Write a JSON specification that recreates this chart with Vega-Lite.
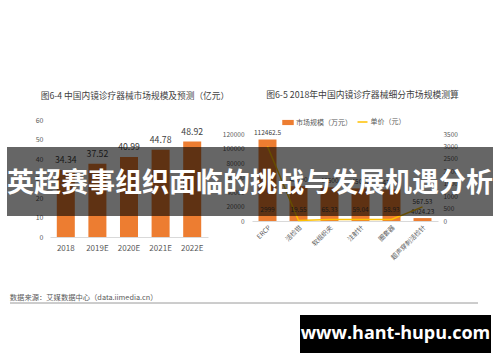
{
  "$schema": "https://vega.github.io/schema/vega-lite/v6.json",
  "width": 500,
  "height": 362,
  "autosize": {"type": "none"},
  "padding": 0,
  "background": "#ffffff",
  "config": {
    "view": {"stroke": null},
    "font": "Noto Sans CJK SC",
    "axis": {"zindex": 0, "grid": false, "ticks": false, "domain": false, "title": null, "labelColor": "#595959", "labelFont": "Noto Sans CJK SC"},
    "legend": {"labelFont": "Noto Sans CJK SC", "labelColor": "#595959", "labelFontSize": 7, "padding": 0, "title": null}
  },
  "layer": [
    {
      "data": {"values": [
        {"cat": "ERCP", "size": 112462.5, "price": 2999},
        {"cat": "活检钳", "size": 48000, "price": 19.55},
        {"cat": "软组织夹", "size": 46500, "price": 65.33},
        {"cat": "注射针", "size": 45000, "price": 59.04},
        {"cat": "圈套器", "size": 43500, "price": 58.93},
        {"cat": "超声穿刺活检针", "size": 4024.23, "price": 567.53}
      ]},
      "layer": [
        {
          "layer": [
            {
              "mark": {"type": "bar"},
              "encoding": {
                "x": {"field": "cat", "type": "nominal", "sort": null,
                  "scale": {"range": [252, 438], "paddingInner": 0.42, "paddingOuter": 0.21},
                  "axis": {"orient": "bottom", "offset": -141, "domain": true, "domainColor": "#d9d9d9", "labelAngle": -45, "labelFontSize": 6.5, "labelPadding": 3}},
                "y": {"field": "size", "type": "quantitative",
                  "scale": {"domain": [0, 120000], "range": [221, 134], "nice": false},
                  "axis": {"orient": "left", "offset": -252, "values": [0, 20000, 40000, 60000, 80000, 100000, 120000], "format": "d", "labelFontSize": 6.5, "labelPadding": 8}},
                "fill": {"datum": "市场规模（万元）", "scale": {"range": ["#ED7D31"]},
                  "legend": {"orient": "none", "legendX": 282, "legendY": 116.5, "direction": "horizontal", "symbolType": "M-1,-0.45H1V0.45H-1Z", "symbolSize": 132, "symbolStrokeWidth": 0, "labelOffset": 2}}
              }
            },
            {
              "mark": {"type": "text", "baseline": "middle", "dy": -6.5, "fontSize": 6.5, "color": "#404040"},
              "encoding": {
                "x": {"field": "cat", "type": "nominal", "sort": null},
                "y": {"field": "size", "type": "quantitative"},
                "text": {"field": "size", "type": "nominal"}
              }
            },
            {
              "data": {"values": [{"t": "图6-5 2018年中国内镜诊疗器械细分市场规模测算"}]},
              "mark": {"type": "text", "baseline": "middle", "fontSize": 8.8, "color": "#404040", "dx": 2},
              "encoding": {
                "x": {"datum": "注射针", "type": "nominal"},
                "y": {"datum": 173793, "type": "quantitative"},
                "text": {"field": "t"}
              }
            }
          ]
        },
        {
          "layer": [
            {
              "mark": {"type": "line", "strokeWidth": 1.5},
              "encoding": {
                "x": {"field": "cat", "type": "nominal", "sort": null},
                "y": {"field": "price", "type": "quantitative",
                  "scale": {"domain": [0, 3500], "range": [221, 134], "nice": false},
                  "axis": {"orient": "right", "offset": -62, "values": [0, 500, 1000, 1500, 2000, 2500, 3000, 3500], "format": "d", "labelFontSize": 6.5, "labelPadding": 5}},
                "stroke": {"datum": "单价（元）", "scale": {"range": ["#FFC000"]},
                  "legend": {"orient": "none", "legendX": 356.5, "legendY": 116, "direction": "horizontal", "symbolType": "stroke", "symbolSize": 100, "symbolStrokeWidth": 1.5, "labelOffset": 2}}
              }
            },
            {
              "transform": [{"filter": "datum.cat != '超声穿刺活检针'"}],
              "mark": {"type": "text", "baseline": "middle", "fontSize": 6.5, "color": "#404040"},
              "encoding": {
                "x": {"field": "cat", "type": "nominal", "sort": null},
                "y": {"datum": 442, "type": "quantitative"},
                "text": {"field": "price", "type": "nominal"}
              }
            },
            {
              "transform": [{"filter": "datum.cat == '超声穿刺活检针'"}],
              "mark": {"type": "text", "baseline": "middle", "dy": -5, "fontSize": 6.5, "color": "#404040"},
              "encoding": {
                "x": {"field": "cat", "type": "nominal", "sort": null},
                "y": {"field": "price", "type": "quantitative"},
                "text": {"field": "price", "type": "nominal"}
              }
            }
          ]
        }
      ],
      "resolve": {"scale": {"y": "independent"}}
    },
    {
      "data": {"values": [
        {"year": "2018", "value": 34.34},
        {"year": "2019E", "value": 37.52},
        {"year": "2020E", "value": 40.99},
        {"year": "2021E", "value": 44.78},
        {"year": "2022E", "value": 48.92}
      ]},
      "layer": [
        {
          "mark": {"type": "bar", "color": "#ED7D31"},
          "encoding": {
            "x": {"field": "year", "type": "nominal", "sort": null,
              "scale": {"range": [50, 208], "paddingInner": 0.43, "paddingOuter": 0.215},
              "axis": {"orient": "bottom", "offset": -125, "domain": true, "domainColor": "#d9d9d9", "labelAngle": 0, "labelFontSize": 8, "labelPadding": 7}},
            "y": {"field": "value", "type": "quantitative",
              "scale": {"domain": [0, 60], "range": [237, 120], "nice": false},
              "axis": {"orient": "left", "offset": -50, "values": [0, 10, 20, 30, 40, 50, 60], "labelFontSize": 7, "labelPadding": 7}}
          }
        },
        {
          "mark": {"type": "text", "baseline": "middle", "dy": -10, "fontSize": 8.7, "color": "#404040"},
          "encoding": {
            "x": {"field": "year", "type": "nominal", "sort": null},
            "y": {"field": "value", "type": "quantitative"},
            "text": {"field": "value", "type": "nominal"}
          }
        },
        {
          "data": {"values": [{"t": "图6-4 中国内镜诊疗器械市场规模及预测（亿元）"}]},
          "mark": {"type": "text", "baseline": "middle", "fontSize": 8.7, "color": "#404040", "dx": 6},
          "encoding": {
            "x": {"datum": "2020E", "type": "nominal"},
            "y": {"datum": 72.3, "type": "quantitative"},
            "text": {"field": "t"}
          }
        },
        {
          "data": {"values": [{"t": "数据来源：艾媒数据中心（data.iimedia.cn）"}]},
          "mark": {"type": "text", "baseline": "middle", "align": "left", "fontSize": 7.3, "color": "#595959", "dx": -56},
          "encoding": {
            "x": {"datum": "2018", "type": "nominal"},
            "y": {"datum": -31.3, "type": "quantitative"},
            "text": {"field": "t"}
          }
        },
        {
          "data": {"values": [{"t": "footer"}]},
          "mark": {"type": "rule", "color": "#808080", "strokeWidth": 0.8},
          "encoding": {
            "x": {"value": 10},
            "x2": {"value": 478},
            "y": {"datum": -33.85, "type": "quantitative"}
          }
        },
        {
          "data": {"values": [{"t": "banner"}]},
          "mark": {"type": "rect", "color": "#000000", "opacity": 0.6},
          "encoding": {
            "x": {"value": 7},
            "x2": {"value": 493},
            "y": {"datum": 46.15, "type": "quantitative"},
            "y2": {"datum": 10.77}
          }
        },
        {
          "data": {"values": [{"t": "英超赛事组织面临的挑战与发展机遇分析"}]},
          "mark": {"type": "text", "baseline": "middle", "fontSize": 27, "fontWeight": "bold", "color": "#ffffff"},
          "encoding": {
            "y": {"datum": 27.2, "type": "quantitative"},
            "text": {"field": "t"}
          }
        },
        {
          "data": {"values": [{"t": "watermark"}]},
          "mark": {"type": "rect", "color": "#000000"},
          "encoding": {
            "x": {"value": 300},
            "x2": {"value": 491},
            "y": {"datum": -40, "type": "quantitative"},
            "y2": {"datum": -59.5}
          }
        },
        {
          "data": {"values": [{"t": "www.hant-hupu.com"}]},
          "mark": {"type": "text", "baseline": "middle", "font": "Open Sans", "fontSize": 18, "fontWeight": "bold", "color": "#ffffff", "dx": 145.5},
          "encoding": {
            "y": {"datum": -49.7, "type": "quantitative"},
            "text": {"field": "t"}
          }
        }
      ]
    }
  ],
  "resolve": {"scale": {"x": "independent", "y": "independent"}}
}
